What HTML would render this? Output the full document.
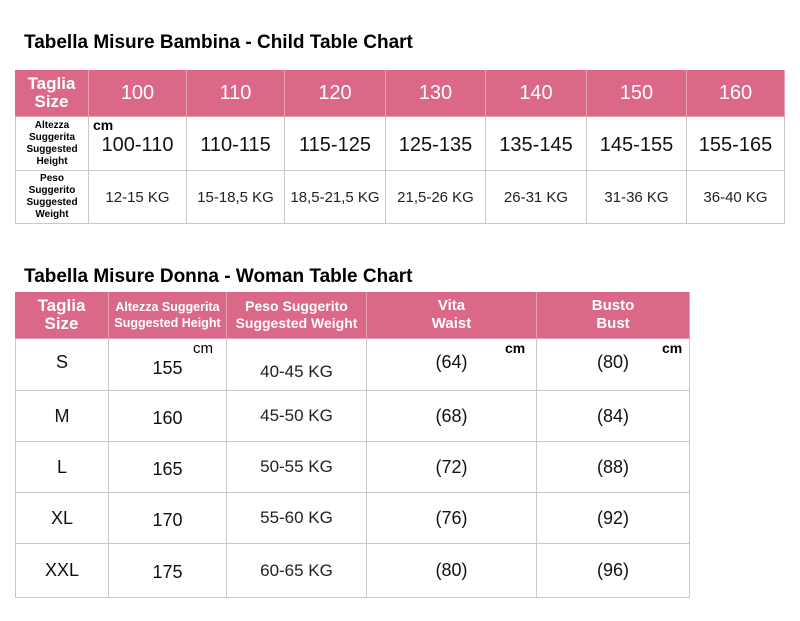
<!DOCTYPE html>
<html><head><meta charset="utf-8"><style>
body{margin:0;width:800px;height:621px;background:#fff;position:relative;font-family:"Liberation Sans",sans-serif;overflow:hidden}
.t{position:absolute;font-weight:bold;font-size:19px;color:#000}
.c{position:absolute;box-sizing:border-box;display:flex;align-items:center;justify-content:center;text-align:center;border-right:1px solid #c8c8c8;border-bottom:1px solid #c8c8c8}
.h{background:#dc6888;color:#fff;border-color:#e8a0b4}
.hb{font-weight:bold;font-size:16px;line-height:18px}
.hn{font-size:20px}
.lab{font-weight:bold;font-size:10px;line-height:12px}
.big{font-size:20px;color:#111}
.kg{font-size:15px;color:#222}
.sm{font-size:12.5px;font-weight:bold;line-height:16px}
.cm{position:absolute;font-weight:bold;font-size:14px}
</style></head><body>
<div class="t" style="left:24px;top:32px">Tabella Misure Bambina - Child Table Chart</div>
<div style="position:absolute;left:15px;top:70px;width:770px;height:154px;border-left:1px solid #c8c8c8;border-top:1px solid #c8c8c8;box-sizing:border-box"></div>
<div class="c h hb" style="left:15px;top:70px;width:74px;height:47px;font-size:17px">Taglia<br>Size</div>
<div class="c h hn" style="left:89px;top:70px;width:98px;height:47px">100</div>
<div class="c h hn" style="left:187px;top:70px;width:98px;height:47px">110</div>
<div class="c h hn" style="left:285px;top:70px;width:101px;height:47px">120</div>
<div class="c h hn" style="left:386px;top:70px;width:100px;height:47px">130</div>
<div class="c h hn" style="left:486px;top:70px;width:101px;height:47px">140</div>
<div class="c h hn" style="left:587px;top:70px;width:100px;height:47px">150</div>
<div class="c h hn" style="left:687px;top:70px;width:98px;height:47px">160</div>

<div class="c lab" style="left:15px;top:117px;width:74px;height:54px;border-left:1px solid #c8c8c8">Altezza<br>Suggerita<br>Suggested<br>Height</div>
<div class="c big" style="left:89px;top:117px;width:98px;height:54px;padding-top:4px">100-110</div>
<div class="cm" style="left:93px;top:117px">cm</div>
<div class="c big" style="left:187px;top:117px;width:98px;height:54px;padding-top:4px">110-115</div>
<div class="c big" style="left:285px;top:117px;width:101px;height:54px;padding-top:4px">115-125</div>
<div class="c big" style="left:386px;top:117px;width:100px;height:54px;padding-top:4px">125-135</div>
<div class="c big" style="left:486px;top:117px;width:101px;height:54px;padding-top:4px">135-145</div>
<div class="c big" style="left:587px;top:117px;width:100px;height:54px;padding-top:4px">145-155</div>
<div class="c big" style="left:687px;top:117px;width:98px;height:54px;padding-top:4px">155-165</div>

<div class="c lab" style="left:15px;top:171px;width:74px;height:53px;border-left:1px solid #c8c8c8">Peso<br>Suggerito<br>Suggested<br>Weight</div>
<div class="c kg" style="left:89px;top:171px;width:98px;height:53px">12-15 KG</div>
<div class="c kg" style="left:187px;top:171px;width:98px;height:53px">15-18,5 KG</div>
<div class="c kg" style="left:285px;top:171px;width:101px;height:53px">18,5-21,5 KG</div>
<div class="c kg" style="left:386px;top:171px;width:100px;height:53px">21,5-26 KG</div>
<div class="c kg" style="left:486px;top:171px;width:101px;height:53px">26-31 KG</div>
<div class="c kg" style="left:587px;top:171px;width:100px;height:53px">31-36 KG</div>
<div class="c kg" style="left:687px;top:171px;width:98px;height:53px">36-40 KG</div>

<div class="t" style="left:24px;top:266px">Tabella Misure Donna - Woman Table Chart</div>
<div style="position:absolute;left:15px;top:292px;width:675px;height:306px;border-left:1px solid #c8c8c8;border-top:1px solid #c8c8c8;box-sizing:border-box"></div>
<div class="c h hb" style="left:15px;top:292px;width:94px;height:47px;font-size:17px">Taglia<br>Size</div>
<div class="c h sm" style="left:109px;top:292px;width:118px;height:47px">Altezza Suggerita<br>Suggested Height</div>
<div class="c h sm" style="left:227px;top:292px;width:140px;height:47px;font-size:14px;line-height:17px">Peso Suggerito<br>Suggested Weight</div>
<div class="c h hb" style="left:367px;top:292px;width:170px;height:47px;font-size:15px">Vita<br>Waist</div>
<div class="c h hb" style="left:537px;top:292px;width:153px;height:47px;font-size:15px">Busto<br>Bust</div>

<div class="c big" style="left:15px;top:339px;width:94px;height:52px;border-left:1px solid #c8c8c8;font-size:18px;padding-bottom:4px">S</div>
<div class="c big" style="left:109px;top:339px;width:118px;height:52px;font-size:18px;padding-top:8px">155</div>
<div class="c kg" style="left:227px;top:339px;width:140px;height:52px;font-size:17px;padding-top:14px">40-45 KG</div>
<div class="c big" style="left:367px;top:339px;width:170px;height:52px;font-size:18px;padding-bottom:4px">(64)</div>
<div class="c big" style="left:537px;top:339px;width:153px;height:52px;font-size:18px;padding-bottom:4px">(80)</div>
<div class="cm" style="left:193px;top:340px;font-weight:normal;font-size:15px">cm</div>
<div class="cm" style="left:505px;top:340px">cm</div>
<div class="cm" style="left:662px;top:340px">cm</div>

<div class="c big" style="left:15px;top:391px;width:94px;height:51px;border-left:1px solid #c8c8c8;font-size:18px">M</div>
<div class="c big" style="left:109px;top:391px;width:118px;height:51px;font-size:18px;padding-top:4px">160</div>
<div class="c kg" style="left:227px;top:391px;width:140px;height:51px;font-size:17px">45-50 KG</div>
<div class="c big" style="left:367px;top:391px;width:170px;height:51px;font-size:18px">(68)</div>
<div class="c big" style="left:537px;top:391px;width:153px;height:51px;font-size:18px">(84)</div>

<div class="c big" style="left:15px;top:442px;width:94px;height:51px;border-left:1px solid #c8c8c8;font-size:18px">L</div>
<div class="c big" style="left:109px;top:442px;width:118px;height:51px;font-size:18px;padding-top:4px">165</div>
<div class="c kg" style="left:227px;top:442px;width:140px;height:51px;font-size:17px">50-55 KG</div>
<div class="c big" style="left:367px;top:442px;width:170px;height:51px;font-size:18px">(72)</div>
<div class="c big" style="left:537px;top:442px;width:153px;height:51px;font-size:18px">(88)</div>

<div class="c big" style="left:15px;top:493px;width:94px;height:51px;border-left:1px solid #c8c8c8;font-size:18px">XL</div>
<div class="c big" style="left:109px;top:493px;width:118px;height:51px;font-size:18px;padding-top:4px">170</div>
<div class="c kg" style="left:227px;top:493px;width:140px;height:51px;font-size:17px">55-60 KG</div>
<div class="c big" style="left:367px;top:493px;width:170px;height:51px;font-size:18px">(76)</div>
<div class="c big" style="left:537px;top:493px;width:153px;height:51px;font-size:18px">(92)</div>

<div class="c big" style="left:15px;top:544px;width:94px;height:54px;border-left:1px solid #c8c8c8;font-size:18px">XXL</div>
<div class="c big" style="left:109px;top:544px;width:118px;height:54px;font-size:18px;padding-top:4px">175</div>
<div class="c kg" style="left:227px;top:544px;width:140px;height:54px;font-size:17px">60-65 KG</div>
<div class="c big" style="left:367px;top:544px;width:170px;height:54px;font-size:18px">(80)</div>
<div class="c big" style="left:537px;top:544px;width:153px;height:54px;font-size:18px">(96)</div>
</body></html>
